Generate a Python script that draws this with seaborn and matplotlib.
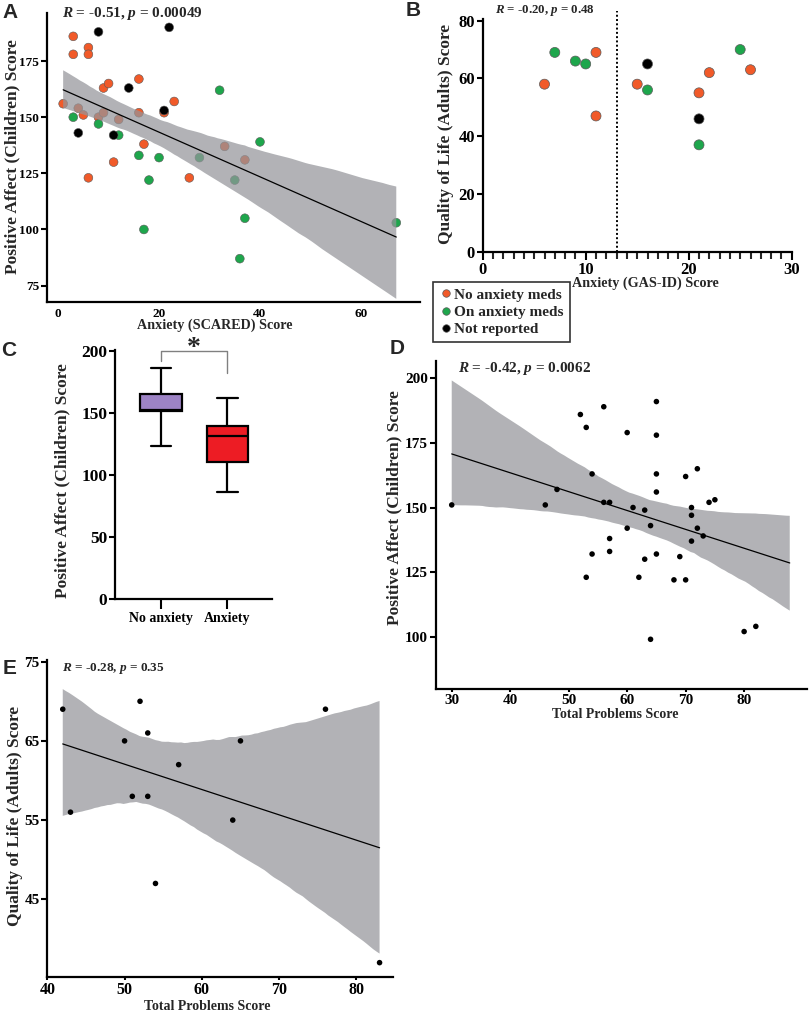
import numpy as np
import pandas as pd
import matplotlib
matplotlib.use("Agg")
import matplotlib.pyplot as plt
from matplotlib.ticker import MultipleLocator
import seaborn as sns

# ---- values ----
groups = ["No anxiety meds", "On anxiety meds", "Not reported"]
group_colors = ["#f15a29", "#1ea64c", "#000000"]

# A: positive affect (children) vs SCARED anxiety
a_x = [1, 3, 3, 6, 6, 4, 5, 8, 9, 9, 10, 12, 16, 16, 11, 6, 17, 21, 23, 26, 33, 37,
       3, 8, 12, 16, 20, 18, 17, 28, 32, 40, 35, 37, 36, 67,
       8, 22, 14, 21, 4, 11]
a_y = [156, 186, 178, 181, 178, 154, 151, 150, 152, 163, 165, 149, 152, 167, 130, 123, 138, 152, 157, 123, 137, 131,
       150, 147, 142, 133, 132, 122, 100, 132, 162, 139, 122, 105, 87, 103,
       188, 190, 163, 153, 143, 142]
a_group = [groups[0]] * 22 + [groups[1]] * 14 + [groups[2]] * 6

# B: quality of life (adults) vs GAS-ID anxiety
b_x = [6, 11, 11, 15, 21, 22, 26, 7, 9, 10, 16, 21, 25, 16, 21]
b_y = [58, 69, 47, 58, 55, 62, 63, 69, 66, 65, 56, 37, 70, 65, 46]
b_group = [groups[0]] * 7 + [groups[1]] * 6 + [groups[2]] * 2

# C: box summary values (min, q1, median, q3, max)
c_order = ["No anxiety", "Anxiety"]
c_no_anx = [123.7, 151.9, 153.0, 165.4, 186.5]
c_anx = [86.4, 110.3, 131.8, 139.8, 162.4]

# D: positive affect (children) vs total problems
d_x = [30, 46, 48, 52, 53, 54, 56, 56, 57, 57, 57, 54, 53, 65, 60, 65, 65, 65, 70, 72,
       74, 75, 61, 63, 60, 64, 71, 71, 72, 73, 71, 63, 65, 69, 62, 68, 70, 64, 80, 82]
d_y = [151, 151, 157, 186, 181, 163, 189, 152, 152, 138, 133, 132, 123, 191, 179, 178, 163, 156, 162, 165,
       152, 153, 150, 149, 142, 143, 150, 147, 142, 139, 137, 130, 132, 131, 123, 122, 122, 99, 102, 104]

# E: quality of life (adults) vs total problems
e_x = [42, 52, 50, 53, 57, 51, 53, 43, 54, 65, 76, 64, 83]
e_y = [69, 70, 65, 66, 62, 58, 58, 56, 47, 65, 69, 55, 37]

# ---- style ----
sns.set_theme(style="ticks")
plt.rcParams["font.family"] = ["Liberation Serif", "DejaVu Serif"]
plt.rcParams["font.weight"] = "bold"
plt.rcParams["axes.labelweight"] = "bold"
plt.rcParams["mathtext.fontset"] = "custom"
plt.rcParams["mathtext.it"] = "Liberation Serif:italic:bold"
plt.rcParams["mathtext.rm"] = "Liberation Serif:bold"

W, H = 809, 1014
fig = plt.figure(figsize=(W / 100, H / 100), dpi=100)
fig.patch.set_facecolor("white")


def px(x, y):
    return x / W, 1 - y / H


def add_ax(left, top, right, bottom):
    return fig.add_axes([left / W, 1 - bottom / H, (right - left) / W, (bottom - top) / H])


def style_ax(ax, size):
    sns.despine(ax=ax)
    for s in ["left", "bottom"]:
        ax.spines[s].set_linewidth(1.6)
        ax.spines[s].set_color("black")
    ax.tick_params(width=1.5, length=4, labelsize=size, colors="black", pad=1.5)
    ax.set_xlabel("")
    ax.set_ylabel("")


def style_band(ax):
    band = ax.collections[-1]
    band.set_facecolor("#94959a")
    band.set_edgecolor("none")
    band.set_alpha(0.72)


def label(x, y, s, size, rot=0):
    fig.text(*px(x, y), s, ha="center", va="center", fontsize=size, rotation=rot,
             fontweight="bold")


def letter(x, y, s):
    fig.text(*px(x, y), s, ha="center", va="center", fontsize=15,
             family="Liberation Sans", fontweight="bold")


def stat(x, y, s, size):
    fig.text(*px(x, y), s, ha="left", va="center", fontsize=size, fontweight="bold")


pal = dict(zip(groups, group_colors))

# ---- A ----
ax_a = add_ax(47, 13, 420, 302)
a_df = pd.DataFrame({"x": a_x, "y": a_y, "group": a_group})
sns.scatterplot(data=a_df, x="x", y="y", hue="group", palette=pal, s=40,
                edgecolor="0.35", linewidth=0.4, legend=False, ax=ax_a)
sns.regplot(data=a_df, x="x", y="y", scatter=False, color="black", seed=0,
            line_kws=dict(lw=0.9), ax=ax_a)
style_band(ax_a)
ax_a.set_xlim(-2.2, 71.7)
ax_a.set_ylim(67.7, 196.4)
ax_a.set_xticks([0, 20, 40, 60])
ax_a.set_yticks([75, 100, 125, 150, 175])
style_ax(ax_a, 9.5)
ax_a.tick_params(axis="x", length=0, pad=4)

# ---- B ----
ax_b = add_ax(482.7, 20.7 - 1.5, 791.7, 251.7)
b_df = pd.DataFrame({"x": b_x, "y": b_y, "group": b_group})
sns.scatterplot(data=b_df, x="x", y="y", hue="group", hue_order=groups, palette=pal, s=52,
                edgecolor="0.35", linewidth=0.5, ax=ax_b)
handles, labels = ax_b.get_legend_handles_labels()
ax_b.get_legend().remove()
ax_b.axvline(13, ymin=0, ymax=1.035, color="black", lw=1.4, ls=(0, (1, 1.2)), clip_on=False)
ax_b.set_xlim(0, 30)
ax_b.set_ylim(0, 80.5)
ax_b.set_xticks([0, 10, 20, 30])
ax_b.set_yticks([0, 20, 40, 60, 80])
ax_b.xaxis.set_minor_locator(MultipleLocator(1))
style_ax(ax_b, 12)
ax_b.tick_params(axis="x", which="major", length=6)
ax_b.tick_params(axis="x", which="minor", length=5, width=1.5)

leg = fig.legend(handles, labels, loc="upper left", bbox_to_anchor=px(432.7, 282),
                 frameon=True, fancybox=False, edgecolor="black", fontsize=11,
                 handletextpad=0.0, handlelength=1.0, labelspacing=0.22, borderpad=0.4,
                 borderaxespad=0, markerscale=0.75)
leg.get_frame().set_linewidth(1.2)
for t in leg.get_texts():
    t.set_fontweight("bold")

# ---- C ----
ax_c = add_ax(115, 351 - 1, 272, 599.3)
c_df = pd.DataFrame({"group": [c_order[0]] * len(c_no_anx) + [c_order[1]] * len(c_anx),
                     "score": c_no_anx + c_anx})
sns.boxplot(data=c_df, x="group", y="score", hue="group", order=c_order, hue_order=c_order,
            palette=["#9d83c5", "#ed1c24"], whis=(0, 100), width=0.62, linecolor="black",
            linewidth=1.6, fliersize=0, saturation=1, legend=False, ax=ax_c)
ax_c.set_xlim(-0.69, 1.67)
ax_c.set_ylim(0, 201)
ax_c.set_yticks([0, 50, 100, 150, 200])
style_ax(ax_c, 12.5)
ax_c.tick_params(axis="x", length=7, labelsize=10, pad=2)
ax_c.plot([0, 0, 1, 1], [192, 200, 200, 182.5], color="0.5", lw=1.0, clip_on=False)
ax_c.text(0.5, 202, "*", ha="center", va="center", fontsize=20, fontweight="bold",
          clip_on=False)

# ---- D ----
ax_d = add_ax(435.7, 361, 806.7, 689.3)
d_df = pd.DataFrame({"x": d_x, "y": d_y})
ax_d.set_xlim(30, 87.8)
sns.regplot(data=d_df, x="x", y="y", scatter=False, truncate=False, color="black", seed=0,
            line_kws=dict(lw=0.9), ax=ax_d)
style_band(ax_d)
sns.scatterplot(data=d_df, x="x", y="y", color="black", s=16, edgecolor="none", ax=ax_d)
ax_d.set_xlim(27.26, 90.7)
ax_d.set_ylim(79.65, 206.7)
ax_d.set_xticks([30, 40, 50, 60, 70, 80])
ax_d.set_yticks([100, 125, 150, 175, 200])
style_ax(ax_d, 11)
ax_d.tick_params(axis="x", length=2)

# ---- E ----
ax_e = add_ax(47.3, 660.1, 392.7, 977.3)
e_df = pd.DataFrame({"x": e_x, "y": e_y})
sns.regplot(data=e_df, x="x", y="y", scatter=False, color="black", seed=0,
            line_kws=dict(lw=0.9), ax=ax_e)
style_band(ax_e)
sns.scatterplot(data=e_df, x="x", y="y", color="black", s=16, edgecolor="none", ax=ax_e)
ax_e.set_xlim(40, 84.7)
ax_e.set_ylim(35.15, 75.2)
ax_e.set_xticks([40, 50, 60, 70, 80])
ax_e.set_yticks([45, 55, 65, 75])
style_ax(ax_e, 11)
ax_e.tick_params(axis="x", length=2, labelsize=11.5)

# ---- texts ----
letter(10, 13, "A")
letter(413, 11, "B")
letter(9, 350, "C")
letter(397, 349, "D")
letter(10, 668, "E")

stat(61.7, 14, "$R$ = -0.51, $p$ = 0.00049", 11)
stat(495, 10, "$R$ = -0.20, $p$ = 0.48", 9.3)
stat(458, 368, "$R$ = -0.42, $p$ = 0.0062", 11)
stat(62, 668, "$R$ = -0.28, $p$ = 0.35", 9.5)

label(12.5, 157, "Positive Affect (Children) Score", 12.5, 90)
label(215, 325, "Anxiety (SCARED) Score", 10.2)
label(446, 133.5, "Quality of Life (Adults) Score", 12.5, 90)
label(645, 283, "Anxiety (GAS-ID) Score", 10.2)
label(62, 481, "Positive Affect (Children) Score", 12.5, 90)
label(394, 508, "Positive Affect (Children) Score", 12.5, 90)
label(615, 714, "Total Problems Score", 10)
label(15, 815.5, "Quality of Life (Adults) Score", 12.5, 90)
label(207, 1006, "Total Problems Score", 10)

fig.savefig("out.png", dpi=100, facecolor="white")
